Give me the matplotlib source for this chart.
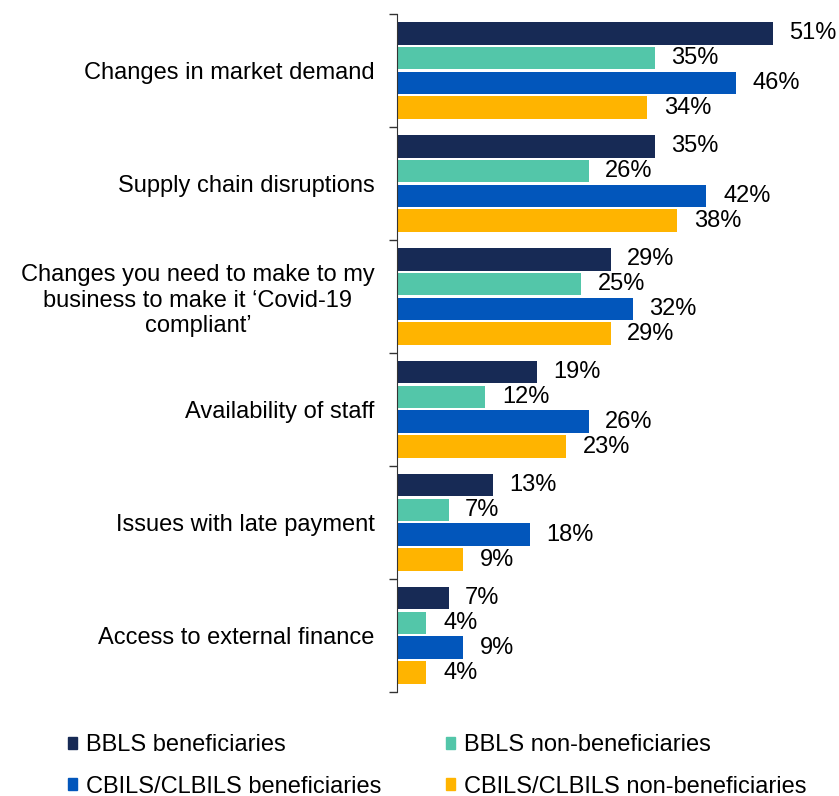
import numpy as np
import matplotlib.pyplot as plt
from matplotlib.patches import Patch

plt.rcParams['font.family'] = ['Liberation Sans', 'DejaVu Sans']

categories = [
    'Changes in market demand',
    'Supply chain disruptions',
    'Changes you need to make to my\nbusiness to make it \u2018Covid-19\ncompliant\u2019',
    'Availability of staff',
    'Issues with late payment',
    'Access to external finance',
]
series_names = ['BBLS beneficiaries', 'BBLS non-beneficiaries',
                'CBILS/CLBILS beneficiaries', 'CBILS/CLBILS non-beneficiaries']
bbls_ben = [51, 35, 29, 19, 13, 7]
bbls_non = [35, 26, 25, 12, 7, 4]
cbils_ben = [46, 42, 32, 26, 18, 9]
cbils_non = [34, 38, 29, 23, 9, 4]
colors = ['#172A55', '#53C6A9', '#0256BB', '#FFB400']

series = [bbls_ben, bbls_non, cbils_ben, cbils_non]

fig = plt.figure(figsize=(8.39, 7.96), dpi=100)
ax = fig.add_axes([0.4732, 0.1307, 0.5268, 0.8517])

y = np.arange(len(categories))
pitch = 0.221
height = 0.203
for i, (vals, col) in enumerate(zip(series, colors)):
    bars = ax.barh(y + (i - 1.5) * pitch, vals, height=height, color=col)
    ax.bar_label(bars, labels=[f'{v}%' for v in vals], padding=12, fontsize=17)

ax.set_xlim(0, 60)
ax.set_ylim(len(categories) - 0.5, -0.5)

ax.set_yticks(y)
ax.set_yticklabels(categories, fontsize=17, multialignment='center', linespacing=1.2)
ax.tick_params(axis='y', which='major', length=0, pad=16)
ax.set_yticks(np.arange(-0.5, len(categories)), minor=True)
ax.tick_params(axis='y', which='minor', length=6, width=1, color='#333333')
ax.set_xticks([])

for s in ['top', 'right', 'bottom']:
    ax.spines[s].set_visible(False)
ax.spines['left'].set_color('#333333')

# legend fills column by column, so reorder to read row by row
order = [0, 2, 1, 3]
handles = [Patch(color=colors[k]) for k in order]
labels = [series_names[k] for k in order]
fig.legend(handles, labels, loc='upper left', ncol=2,
           bbox_to_anchor=(0.081, 0.0779), frameon=False, fontsize=17,
           handlelength=0.4, handleheight=0.4, handletextpad=0.35,
           columnspacing=2.75, labelspacing=0.83, borderpad=0, borderaxespad=0)

fig.savefig('out.png', dpi=100)
